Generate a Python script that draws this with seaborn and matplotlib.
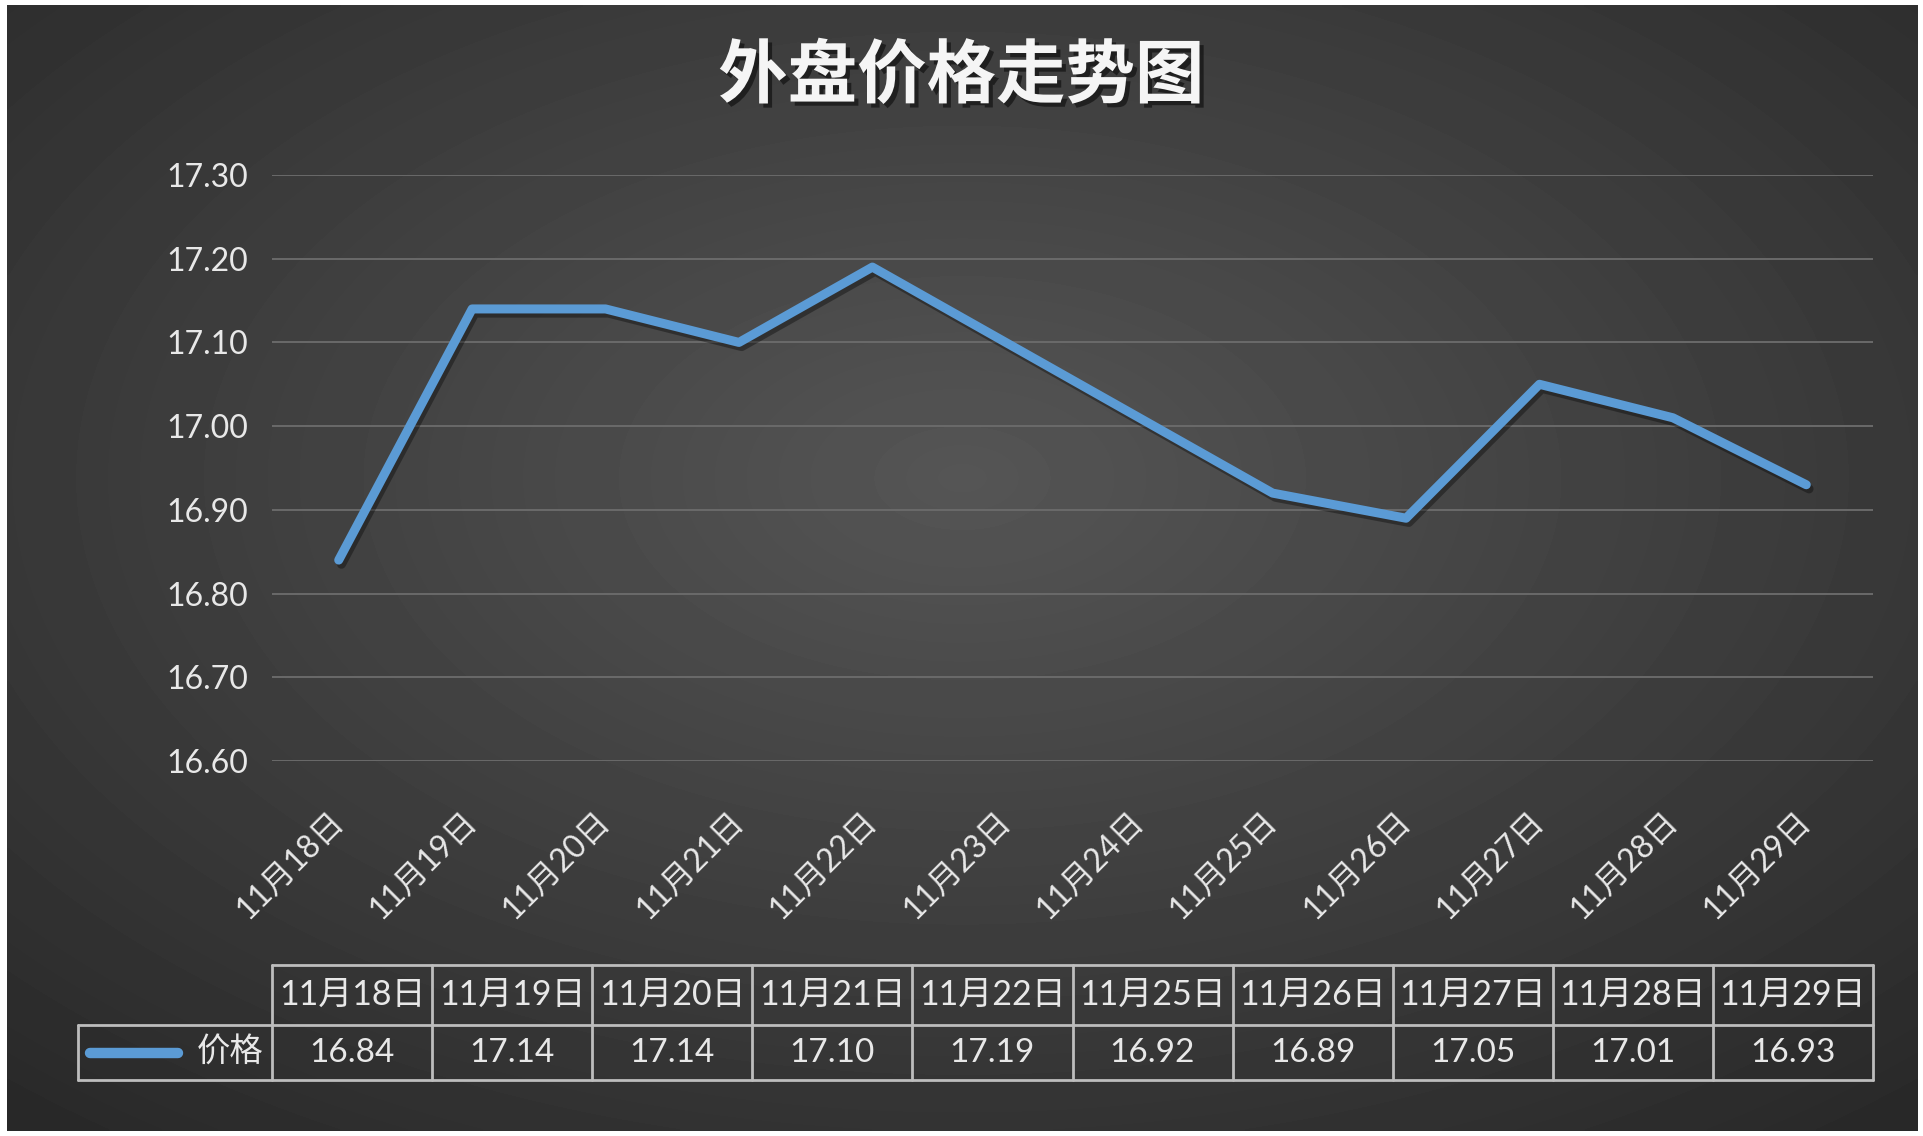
import matplotlib
matplotlib.use('Agg')
import matplotlib.pyplot as plt
import matplotlib.patheffects as pe
import numpy as np
import pandas as pd
import seaborn as sns

# values
title = '外盘价格走势图'
series_name = '价格'
days = [18, 19, 20, 21, 22, 25, 26, 27, 28, 29]
prices = [16.84, 17.14, 17.14, 17.10, 17.19, 16.92, 16.89, 17.05, 17.01, 16.93]
axis_days = list(range(18, 30))
y_ticks = [16.6, 16.7, 16.8, 16.9, 17.0, 17.1, 17.2, 17.3]

df = pd.DataFrame({'day': days, 'price': prices})

sns.set_theme(style='white')
plt.rcParams['font.family'] = ['Lato', 'Noto Sans CJK SC', 'DejaVu Sans']

line_color = '#5B9BD5'
text_color = '#e8e8e8'
grid_color = '#6a6a6a'
table_color = '#bdbdbd'

W, H = 1923, 1136
fig = plt.figure(figsize=(W / 100, H / 100), dpi=100)
fig.patch.set_facecolor('white')

# dark radial background
bg = fig.add_axes([7 / W, 5 / H, 1911 / W, 1126 / H])
yy, xx = np.mgrid[0:1:300j, 0:1:500j]
r = np.sqrt(((xx - 0.5) / 0.75) ** 2 + ((yy - 0.42) / 0.75) ** 2)
shade = np.clip(0.335 - 0.175 * r, 0.14, 1)
bg.imshow(shade, cmap='gray', vmin=0, vmax=1, aspect='auto', origin='upper',
          extent=[0, 1, 0, 1], interpolation='bilinear')
bg.axis('off')

# main chart
ax = fig.add_axes([272 / W, 1 - 761 / H, (1873 - 272) / W, (761 - 175) / H])
ax.set_facecolor('none')
sns.lineplot(data=df, x='day', y='price', ax=ax, color=line_color, linewidth=6.5,
             solid_joinstyle='round', solid_capstyle='round',
             path_effects=[pe.SimpleLineShadow(offset=(2, -3), alpha=0.35, shadow_color='black'),
                           pe.Normal()])
ax.set_xlim(17.5, 29.5)
ax.set_ylim(16.6, 17.3)
ax.set_yticks(y_ticks)
ax.set_yticklabels([f'{v:.2f}' for v in y_ticks], fontsize=23, color=text_color)
ax.set_xticks(axis_days)
ax.set_xticklabels([f'11月{d}日' for d in axis_days], fontsize=23, color=text_color,
                   rotation=45, ha='right', va='center', rotation_mode='anchor')
ax.tick_params(axis='x', length=0, pad=40)
ax.tick_params(axis='y', length=0, pad=17)
ax.grid(axis='y', color=grid_color, linewidth=1.4)
ax.grid(axis='x', visible=False)
for s in ax.spines.values():
    s.set_visible(False)
ax.set_xlabel('')
ax.set_ylabel('')

# title with shadow
fig.text(0.5, 1 - 77 / H, title, ha='center', va='center', fontsize=50,
         fontweight='bold', color='#f5f5f5', family=['Noto Sans CJK SC'],
         path_effects=[pe.withSimplePatchShadow(offset=(3, -3), shadow_rgbFace='black', alpha=0.5)])

# data table under the chart
n = len(days)
tax = fig.add_axes([78 / W, 1 - 1080 / H, (1873 - 78) / W, (1080 - 965) / H])
unit = (1873 - 272) / n
leg_w = (272 - 78) / unit
top = 115 / 55
tax.set_xlim(-leg_w, n)
tax.set_ylim(0, top)
tax.axis('off')
lk = dict(color=table_color, linewidth=2, clip_on=False)
tax.plot([0, n], [top, top], **lk)
tax.plot([-leg_w, n], [1, 1], **lk)
tax.plot([-leg_w, n], [0, 0], **lk)
tax.plot([-leg_w, -leg_w], [0, 1], **lk)
for i in range(n + 1):
    tax.plot([i, i], [0, top], **lk)
for i, (d, v) in enumerate(zip(days, prices)):
    tax.text(i + 0.5, (1 + top) / 2, f'11月{d}日', ha='center', va='center',
             fontsize=24.5, color=text_color)
    tax.text(i + 0.5, 0.5, f'{v:.2f}', ha='center', va='center',
             fontsize=24, color=text_color)
tax.plot([-leg_w + 12 / unit, -leg_w + 100 / unit], [0.5, 0.5], color=line_color,
         linewidth=7.5, solid_capstyle='round', clip_on=False)
tax.text(-8 / unit, 0.5, series_name, ha='right', va='center', fontsize=24,
         color=text_color)

fig.savefig('out.png', dpi=100, facecolor=fig.get_facecolor())
